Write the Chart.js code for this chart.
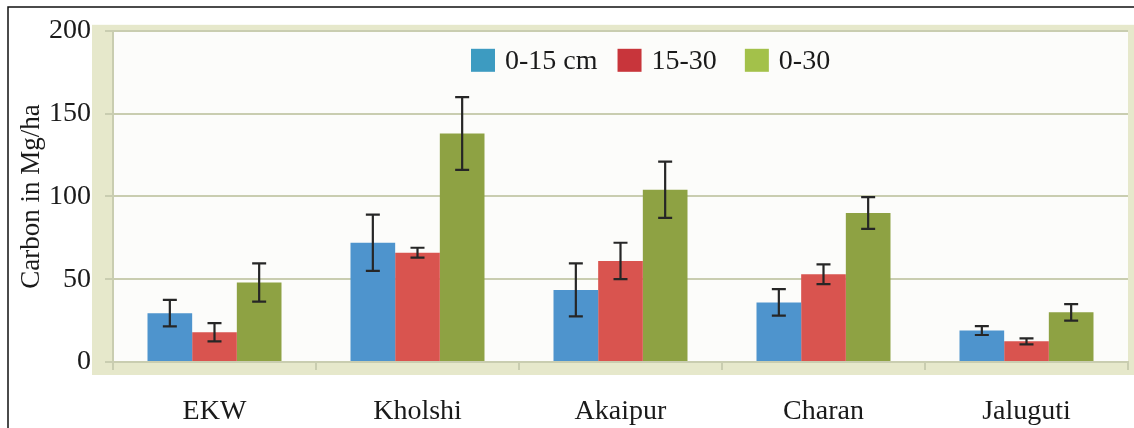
<!DOCTYPE html>
<html>
<head>
<meta charset="utf-8">
<script src="https://cdn.jsdelivr.net/npm/chart.js@4/dist/chart.umd.min.js"></script>
<style>
  html, body { margin: 0; padding: 0; background: #fff; }
  #wrap { width: 1134px; height: 428px; }
</style>
</head>
<body>
<div id="wrap"><canvas id="chart-carbon" width="1134" height="428"></canvas></div>
<script>
// sites and depth classes
const categories = ['EKW', 'Kholshi', 'Akaipur', 'Charan', 'Jaluguti'];
const seriesLabels = ['0-15 cm', '15-30', '0-30'];

// carbon stock (Mg/ha)
const depth0to15 = [29.5, 72, 43.5, 36, 19];
const depth15to30 = [18, 66, 61, 53, 12.5];
const depth0to30 = [48, 138, 104, 90, 30];

// error bar half-lengths
const err0to15 = [8, 17, 16, 8, 2.7];
const err15to30 = [5.5, 3, 11, 6, 1.8];
const err0to30 = [11.5, 22, 17, 9.6, 5];

const yMin = 0;
const yMax = 200;
const yStep = 50;

const barColors = ['#4e94cd', '#d9544f', '#8ea243'];
const legendColors = ['#3d9bc1', '#c8353b', '#a3c14a'];
const errors = [err0to15, err15to30, err0to30];

const FONT = '"Liberation Serif", "DejaVu Serif", serif';
const GRID = '#c9cdb0';

// beige frame + page border
const framePlugin = {
  id: 'frame',
  beforeDraw(chart) {
    const { ctx, chartArea: a } = chart;
    ctx.save();
    ctx.fillStyle = '#fff';
    ctx.fillRect(0, 0, chart.width, chart.height);
    ctx.fillStyle = '#e6e8cb';
    ctx.fillRect(a.left - 21, a.top - 6, a.right - a.left + 27, a.bottom - a.top + 19);
    ctx.fillStyle = '#fcfcfa';
    ctx.fillRect(a.left, a.top, a.right - a.left, a.bottom - a.top);
    ctx.strokeStyle = '#111';
    ctx.lineWidth = 1.5;
    ctx.beginPath();
    ctx.moveTo(8, chart.height);
    ctx.lineTo(8, 7);
    ctx.lineTo(chart.width, 7);
    ctx.stroke();
    ctx.restore();
  }
};

// error bars drawn through the y scale
const errorBarPlugin = {
  id: 'errorBars',
  afterDatasetsDraw(chart) {
    const { ctx } = chart;
    const y = chart.scales.y;
    ctx.save();
    ctx.strokeStyle = '#262626';
    ctx.lineWidth = 2.2;
    chart.data.datasets.forEach((ds, i) => {
      const meta = chart.getDatasetMeta(i);
      meta.data.forEach((bar, j) => {
        const v = ds.data[j];
        const e = errors[i][j];
        const top = y.getPixelForValue(v + e);
        const bot = y.getPixelForValue(v - e);
        const x = bar.x;
        ctx.beginPath();
        ctx.moveTo(x, top);
        ctx.lineTo(x, bot);
        ctx.moveTo(x - 7, top);
        ctx.lineTo(x + 7, top);
        ctx.moveTo(x - 7, bot);
        ctx.lineTo(x + 7, bot);
        ctx.stroke();
      });
    });
    ctx.restore();
  }
};

// legend inside the plot area
const legendPlugin = {
  id: 'insideLegend',
  afterDraw(chart) {
    const { ctx, chartArea: a } = chart;
    ctx.save();
    ctx.font = '28px ' + FONT;
    ctx.textBaseline = 'middle';
    let x = a.left + 358;
    const cy = a.top + 30;
    const gaps = [20, 28, 0];
    seriesLabels.forEach((label, i) => {
      ctx.fillStyle = legendColors[i];
      ctx.fillRect(x, cy - 12, 24, 23);
      x += 34;
      ctx.fillStyle = '#1a1a1a';
      ctx.fillText(label, x, cy + 1);
      x += ctx.measureText(label).width + gaps[i];
    });
    ctx.restore();
  }
};

new Chart(document.getElementById('chart-carbon'), {
  type: 'bar',
  data: {
    labels: categories,
    datasets: [
      { label: seriesLabels[0], data: depth0to15, backgroundColor: barColors[0] },
      { label: seriesLabels[1], data: depth15to30, backgroundColor: barColors[1] },
      { label: seriesLabels[2], data: depth0to30, backgroundColor: barColors[2] }
    ]
  },
  options: {
    responsive: false,
    animation: false,
    layout: { padding: { left: 8, right: 6, top: 30, bottom: 0 } },
    datasets: {
      bar: { categoryPercentage: 0.66, barPercentage: 1, borderWidth: 0 }
    },
    plugins: {
      legend: { display: false },
      tooltip: { enabled: false }
    },
    scales: {
      x: {
        afterFit(scale) { scale.height = 66; },
        grid: {
          offset: true,
          drawOnChartArea: false,
          drawTicks: true,
          tickLength: 8,
          color: GRID,
          lineWidth: 2
        },
        border: { display: true, color: GRID, width: 2 },
        ticks: {
          color: '#1a1a1a',
          padding: 25,
          font: { family: FONT, size: 28 }
        }
      },
      y: {
        min: yMin,
        max: yMax,
        afterFit(scale) { scale.width = 105; },
        grid: {
          color: GRID,
          lineWidth: 2,
          tickLength: 8
        },
        border: { display: true, color: GRID, width: 2 },
        ticks: {
          stepSize: yStep,
          color: '#1a1a1a',
          padding: 14,
          font: { family: FONT, size: 28 }
        },
        title: {
          display: true,
          text: 'Carbon in Mg/ha',
          color: '#1a1a1a',
          padding: { top: 8, bottom: 0 },
          font: { family: FONT, size: 27 }
        }
      }
    }
  },
  plugins: [framePlugin, errorBarPlugin, legendPlugin]
});
</script>
</body>
</html>
